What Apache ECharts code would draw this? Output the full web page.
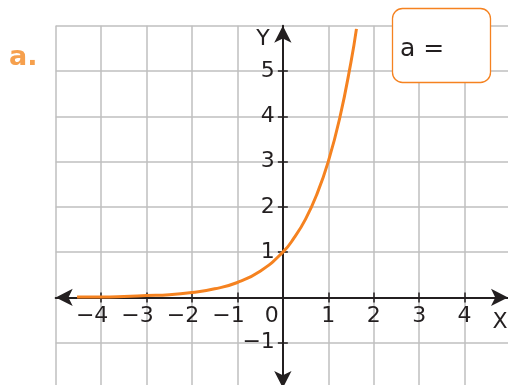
<!DOCTYPE html>
<html>
<head>
<meta charset="utf-8">
<script src="https://cdn.jsdelivr.net/npm/echarts@6/dist/echarts.min.js"></script>
<style>
  html, body { margin: 0; padding: 0; background: #fff; }
  #chart { width: 508px; height: 385px; }
</style>
</head>
<body>
<div id="chart"></div>
<script>
// curve points
var curveX = [-4.53, -4, -3.5, -3, -2.5, -2, -1.5, -1, -0.5, 0, 0.25, 0.5, 0.75, 1, 1.25, 1.5, 1.62];
var curveY = [0.01, 0.01, 0.02, 0.04, 0.06, 0.11, 0.19, 0.33, 0.58, 1, 1.32, 1.73, 2.28, 3, 3.95, 5.2, 5.93];
// ticks and labels on each axis
var xTicks = [-4, -3, -2, -1, 0, 1, 2, 3, 4];
var yTicks = [-1, 1, 2, 3, 4, 5];

var FONT = 'DejaVu Sans';
var INK = '#231f20';
var ORANGE = '#f58220';
var GRIDC = '#bfbfbf';

// grid box and axis ranges
var W = 508, H = 385;
var gLeft = 55.7, gRight = -2, gTop = 25.7, gBottom = -3;
var xMin = -5, xMax = 5, yMin = -2, yMax = 6;

// where the zero lines fall, so the axes can sit on them
var xUnit = (W - gLeft - gRight) / (xMax - xMin);
var yUnit = (H - gTop - gBottom) / (yMax - yMin);
var yAxisShift = -(0 - xMin) * xUnit;
var xAxisShift = -(0 - yMin) * yUnit;

function minus(v) {
  return v < 0 ? '\u2212' + Math.abs(v) : String(v);
}

var points = [];
for (var i = 0; i < curveX.length; i++) {
  points.push([curveX[i], curveY[i]]);
}

var chart = echarts.init(document.getElementById('chart'), null, { renderer: 'canvas' });

var tickStyle = { color: INK, width: 1.5 };
var hidden = { show: false };

// plain axis that only draws the background grid
function gridAxis(min, max, pos, splitLine) {
  return {
    type: 'value', min: min, max: max, interval: 1, position: pos,
    axisLine: { show: false, onZero: false }, axisTick: hidden, axisLabel: hidden,
    splitLine: splitLine
  };
}

// axis without line or labels, ticks pointing the other way
function tickAxis(min, max, pos, shift, ticks) {
  return {
    type: 'value', min: min, max: max, interval: 1, position: pos, offset: shift,
    axisLine: { show: false, onZero: false },
    axisTick: { show: true, inside: true, length: 5, customValues: ticks, lineStyle: tickStyle },
    axisLabel: hidden, splitLine: hidden
  };
}

var option = {
  backgroundColor: '#fff',
  animation: false,
  grid: { left: gLeft, right: gRight, top: gTop, bottom: gBottom, containLabel: false, outerBoundsMode: 'none' },
  xAxis: [{
    type: 'value',
    min: xMin,
    max: xMax,
    interval: 1,
    position: 'bottom',
    offset: xAxisShift,
    axisLine: {
      onZero: false,
      symbol: ['arrow', 'arrow'],
      symbolSize: [13, 17],
      symbolOffset: [0, -2],
      lineStyle: { color: INK, width: 2 }
    },
    axisTick: { show: true, length: 5, customValues: xTicks, lineStyle: tickStyle },
    axisLabel: {
      margin: 8,
      color: INK,
      fontFamily: FONT,
      fontSize: 22,
      customValues: xTicks,
      formatter: function (v) {
        if (v < 0) return '{t|' + minus(v) + '}{gap|}';
        if (v === 0) return '{t|0}{zero|}';
        return '{t|' + v + '}';
      },
      rich: {
        t: { fontFamily: FONT, fontSize: 22, color: INK },
        gap: { width: 18 },
        zero: { width: 22 }
      }
    },
    splitLine: hidden
  },
  tickAxis(xMin, xMax, 'bottom', xAxisShift, xTicks),
  gridAxis(xMin, xMax, 'top', { show: true, showMaxLine: false, lineStyle: { color: GRIDC, width: 1.5 } })
  ],
  yAxis: [{
    type: 'value',
    min: yMin,
    max: yMax,
    interval: 1,
    position: 'left',
    offset: yAxisShift,
    axisLine: {
      onZero: false,
      symbol: ['arrow', 'arrow'],
      symbolSize: [13, 17],
      symbolOffset: [0, 0],
      lineStyle: { color: INK, width: 2 }
    },
    axisTick: { show: true, length: 5, customValues: yTicks, lineStyle: tickStyle },
    axisLabel: {
      margin: 8,
      color: INK,
      fontFamily: FONT,
      fontSize: 22,
      customValues: yTicks,
      formatter: function (v) {
        return minus(v);
      }
    },
    splitLine: hidden
  },
  tickAxis(yMin, yMax, 'left', yAxisShift, yTicks),
  gridAxis(yMin, yMax, 'right', { show: true, showMinLine: false, lineStyle: { color: GRIDC, width: 1.5 } })
  ],
  series: [{
    type: 'line',
    xAxisIndex: 0,
    yAxisIndex: 0,
    data: points,
    smooth: true,
    showSymbol: false,
    lineStyle: { color: ORANGE, width: 3 },
    z: 3
  }],
  graphic: [
    {
      type: 'text', z: 100,
      style: { text: 'a.', x: 9, y: 58, fill: '#f6a04d', font: 'bold 27px "DejaVu Sans"', textVerticalAlign: 'middle' }
    },
    {
      type: 'rect', z: 100,
      shape: { x: 392.5, y: 8.5, width: 98, height: 74, r: 10 },
      style: { fill: '#fff', stroke: ORANGE, lineWidth: 1.3 }
    },
    {
      type: 'text', z: 101,
      style: { text: 'a =', x: 400, y: 49, fill: INK, font: '25px "DejaVu Sans"', textVerticalAlign: 'middle' }
    },
    {
      type: 'text', z: 100,
      style: { text: 'X', x: 500, y: 322, fill: INK, font: '22px "DejaVu Sans"', textAlign: 'center', textVerticalAlign: 'middle' }
    },
    {
      type: 'text', z: 100,
      style: { text: 'Y', x: 263, y: 39, fill: INK, font: '22px "DejaVu Sans"', textAlign: 'center', textVerticalAlign: 'middle' }
    }
  ]
};

chart.setOption(option);
</script>
</body>
</html>
